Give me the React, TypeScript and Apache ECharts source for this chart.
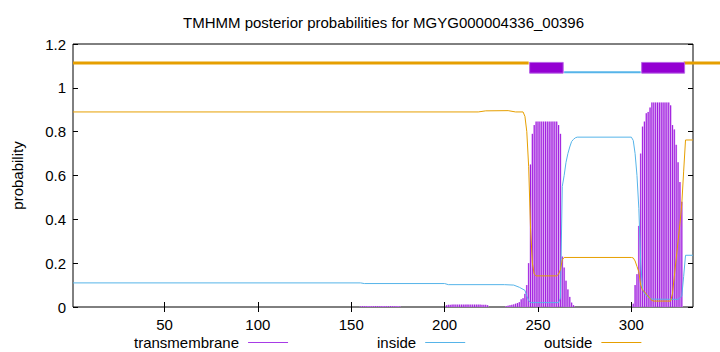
import React, { useEffect, useRef } from "react";
import * as echarts from "echarts";

const TITLE = "TMHMM posterior probabilities for MGYG000004336_00396";
const SEQ_START = 1;
const SEQ_END = 333;
const X_TICKS = [50, 100, 150, 200, 250, 300];
const Y_MIN = 0;
const Y_MAX = 1.2;
const Y_STEP = 0.2;

// posterior probability of transmembrane, one impulse per residue [position, probability]
const transmembrane: [number, number][] = [
  [155, 0.003], [156, 0.004], [157, 0.004], [158, 0.004], [159, 0.004], [160, 0.004], [161, 0.004], [162, 0.004],
  [163, 0.004], [164, 0.004], [165, 0.004], [166, 0.004], [167, 0.004], [168, 0.004], [169, 0.004], [170, 0.004],
  [171, 0.004], [172, 0.004], [173, 0.004], [174, 0.004], [175, 0.004], [176, 0.003],
  [201, 0.008], [202, 0.01], [203, 0.01], [204, 0.011], [205, 0.011], [206, 0.011], [207, 0.011], [208, 0.011],
  [209, 0.011], [210, 0.011], [211, 0.011], [212, 0.011], [213, 0.011], [214, 0.011], [215, 0.011], [216, 0.011],
  [217, 0.011], [218, 0.011], [219, 0.011], [220, 0.01], [221, 0.01], [222, 0.01], [223, 0.008],
  [233, 0.004], [234, 0.006], [235, 0.008], [236, 0.01], [237, 0.012], [238, 0.015], [239, 0.018], [240, 0.022],
  [241, 0.035], [242, 0.04], [243, 0.06], [244, 0.1], [245, 0.2], [246, 0.65], [247, 0.79], [248, 0.83],
  [249, 0.846], [250, 0.846], [251, 0.846], [252, 0.846], [253, 0.846], [254, 0.846], [255, 0.846], [256, 0.846],
  [257, 0.846], [258, 0.846], [259, 0.846], [260, 0.846], [261, 0.83], [262, 0.79], [263, 0.23], [264, 0.18],
  [265, 0.12], [266, 0.08], [267, 0.046], [268, 0.02], [269, 0.008],
  [301, 0.015], [302, 0.1], [303, 0.15], [304, 0.37], [305, 0.7], [306, 0.823], [307, 0.846], [308, 0.884],
  [309, 0.89], [310, 0.91], [311, 0.933], [312, 0.933], [313, 0.933], [314, 0.933], [315, 0.933], [316, 0.933],
  [317, 0.933], [318, 0.933], [319, 0.933], [320, 0.933], [321, 0.92], [322, 0.83], [323, 0.81], [324, 0.74],
  [325, 0.66], [326, 0.57], [327, 0.48],
];

// posterior probability of inside [position, probability]
const inside: [number, number][] = [
  [1, 0.11], [155, 0.11], [157, 0.107], [200, 0.107], [202, 0.102], [232, 0.102], [237, 0.1], [240, 0.09],
  [243, 0.076], [244, 0.05], [245, 0.03], [246, 0.02], [261, 0.02], [262, 0.04], [263, 0.55], [264, 0.6],
  [265, 0.66], [266, 0.7], [267, 0.73], [268, 0.755], [269, 0.765], [270, 0.772], [271, 0.775], [300, 0.775],
  [301, 0.76], [302, 0.7], [303, 0.6], [304, 0.45], [305, 0.2], [306, 0.08], [307, 0.06], [308, 0.053],
  [309, 0.045], [310, 0.04], [311, 0.036], [325, 0.035], [327, 0.05], [328, 0.14], [329, 0.236], [333, 0.236],
];

// posterior probability of outside [position, probability]
const outside: [number, number][] = [
  [1, 0.89], [218, 0.89], [222, 0.895], [234, 0.896], [238, 0.89], [242, 0.89], [243, 0.87], [244, 0.8],
  [245, 0.64], [246, 0.36], [247, 0.2], [248, 0.15], [249, 0.142], [260, 0.142], [261, 0.15], [262, 0.17],
  [263, 0.215], [264, 0.226], [300, 0.226], [301, 0.224], [302, 0.21], [303, 0.185], [304, 0.16], [305, 0.1],
  [306, 0.076], [307, 0.07], [308, 0.058], [309, 0.05], [310, 0.038], [311, 0.03], [312, 0.027], [321, 0.027],
  [322, 0.06], [323, 0.14], [324, 0.22], [325, 0.3], [326, 0.38], [327, 0.47], [328, 0.62], [329, 0.762],
  [333, 0.762],
];

// predicted topology segments [from, to]
const topoOutside: [number, number][] = [[1, 245], [328, 348]];
const topoInside: [number, number][] = [[264, 305]];
const topoTM: [number, number][] = [[245.5, 263.5], [305.5, 328.5]];

const FONT = "'Liberation Sans', Arial, Helvetica, sans-serif";
const PURPLE = "#9400D3";
const BLUE = "#56B4E9";
const ORANGE = "#E69F00";

function segRender(level: number, color: string, width: number) {
  return (params: any, api: any) => {
    const a = api.coord([api.value(0), level]);
    const b = api.coord([api.value(1), level]);
    return {
      type: "line",
      shape: { x1: a[0], y1: a[1], x2: b[0], y2: b[1] },
      style: { stroke: color, lineWidth: width },
    };
  };
}

function boxRender(params: any, api: any) {
  const a = api.coord([api.value(0), 1.116]);
  const b = api.coord([api.value(1), 1.067]);
  return {
    type: "rect",
    shape: { x: a[0], y: a[1], width: b[0] - a[0], height: b[1] - a[1] },
    style: { fill: PURPLE, stroke: "#b865e6", lineWidth: 1 },
  };
}

function impulseRender(params: any, api: any) {
  const x = api.value(0);
  const v = api.value(1);
  const base = api.coord([x, 0]);
  const top = api.coord([x, v]);
  const w = api.size([1, 0])[0];
  return {
    type: "group",
    children: [
      {
        type: "rect",
        shape: { x: base[0] - w / 2, y: top[1], width: w, height: base[1] - top[1] },
        style: { fill: "#d8a6f0" },
      },
      {
        type: "line",
        shape: { x1: base[0], y1: base[1], x2: base[0], y2: top[1] },
        style: { stroke: "#a11ee0", lineWidth: 1 },
      },
    ],
  };
}

function legendFor(name: string, left: number, color: string) {
  return {
    data: [
      {
        name,
        icon: "rect",
        itemStyle: { color, borderWidth: 0 },
        lineStyle: { color, width: 1 },
      },
    ],
    left,
    top: 335,
    align: "right",
    orient: "horizontal",
    itemWidth: 40,
    itemHeight: 1,
    selectedMode: false,
    padding: 0,
    textStyle: { fontSize: 15, color: "#000", fontFamily: FONT, padding: [0, 4, 0, 0] },
  };
}

export default function App() {
  const ref = useRef<HTMLDivElement>(null);
  useEffect(() => {
    const chart = echarts.init(ref.current!, null, { renderer: "svg" });
    const axisCommon = {
      type: "value",
      axisLine: { show: false },
      splitLine: { show: false },
    };
    chart.setOption({
      animation: false,
      title: {
        text: TITLE,
        left: 183,
        top: 15,
        padding: 0,
        textStyle: { fontSize: 15, fontWeight: "normal", color: "#000", fontFamily: FONT },
      },
      legend: [
        legendFor("transmembrane", 134, "#a73be6"),
        legendFor("inside", 377, BLUE),
        legendFor("outside", 544, ORANGE),
      ],
      grid: {
        left: 73,
        right: 27,
        top: 44,
        bottom: 45,
        show: true,
        borderColor: "#000",
        borderWidth: 1,
        backgroundColor: "transparent",
      },
      xAxis: [
        {
          ...axisCommon,
          min: SEQ_START,
          max: SEQ_END,
          position: "bottom",
          axisTick: { show: true, inside: true, length: 5, lineStyle: { color: "#000" }, customValues: X_TICKS },
          axisLabel: { fontSize: 15, color: "#000", fontFamily: FONT, margin: 10, customValues: X_TICKS },
        },
        {
          ...axisCommon,
          min: SEQ_START,
          max: SEQ_END,
          position: "top",
          axisTick: { show: true, inside: true, length: 5, lineStyle: { color: "#000" }, customValues: X_TICKS },
          axisLabel: { show: false, customValues: X_TICKS },
        },
      ],
      yAxis: [
        {
          ...axisCommon,
          min: Y_MIN,
          max: Y_MAX,
          interval: Y_STEP,
          position: "left",
          name: "probability",
          nameLocation: "middle",
          nameRotate: 90,
          nameGap: 48,
          nameTextStyle: { fontSize: 15, color: "#000", fontFamily: FONT },
          axisTick: { show: true, inside: true, length: 5, lineStyle: { color: "#000" } },
          axisLabel: { fontSize: 15, color: "#000", fontFamily: FONT, margin: 7 },
        },
        {
          ...axisCommon,
          min: Y_MIN,
          max: Y_MAX,
          interval: Y_STEP,
          position: "right",
          axisTick: { show: true, inside: true, length: 5, lineStyle: { color: "#000" } },
          axisLabel: { show: false },
        },
      ],
      series: [
        {
          name: "transmembrane",
          type: "custom",
          xAxisIndex: 0,
          yAxisIndex: 0,
          itemStyle: { color: "#a73be6" },
          encode: { x: 0, y: 1 },
          data: transmembrane,
          renderItem: impulseRender,
          silent: true,
          z: 2,
        },
        {
          name: "inside",
          type: "line",
          data: inside,
          showSymbol: false,
          symbol: "none",
          lineStyle: { color: BLUE, width: 1 },
          itemStyle: { color: BLUE },
          silent: true,
          z: 3,
        },
        {
          name: "outside",
          type: "line",
          data: outside,
          showSymbol: false,
          symbol: "none",
          lineStyle: { color: ORANGE, width: 1 },
          itemStyle: { color: ORANGE },
          silent: true,
          z: 4,
        },
        {
          name: "topo-outside",
          type: "custom",
          clip: false,
          encode: { x: [0, 1] },
          data: topoOutside,
          renderItem: segRender(1.113, ORANGE, 3),
          silent: true,
          z: 5,
        },
        {
          name: "topo-inside",
          type: "custom",
          clip: false,
          encode: { x: [0, 1] },
          data: topoInside,
          renderItem: segRender(1.071, BLUE, 2),
          silent: true,
          z: 5,
        },
        {
          name: "topo-tm",
          type: "custom",
          clip: false,
          encode: { x: [0, 1] },
          data: topoTM,
          renderItem: boxRender,
          silent: true,
          z: 6,
        },
      ],
    });
    return () => chart.dispose();
  }, []);
  return (
    <div
      ref={ref}
      style={{ width: 720, height: 352, position: "absolute", left: 0, top: 0, background: "#fff" }}
    />
  );
}
